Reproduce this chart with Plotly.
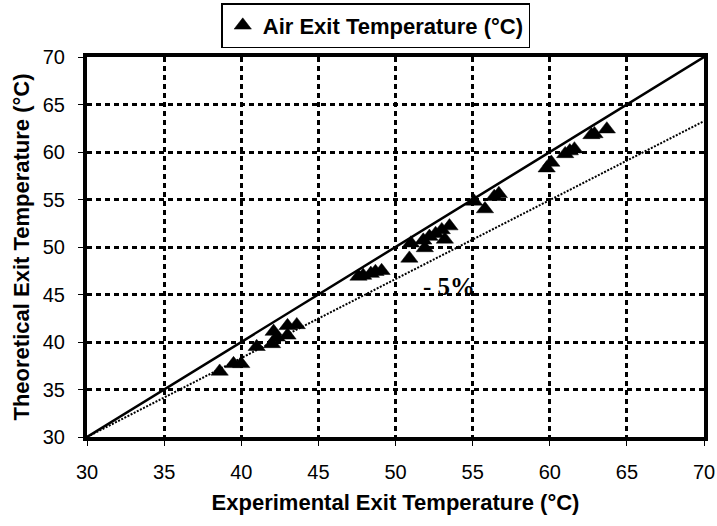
import plotly.graph_objects as go

# Experimental vs theoretical air exit temperature (°C)
exp_temp = [38.6, 39.5, 40.0, 41.0, 42.0, 42.1, 42.3, 43.0, 43.0, 43.6,
            47.6, 47.9, 48.4, 48.7, 49.1,
            50.9, 51.0, 51.8, 51.9, 52.2, 52.6, 53.0, 53.2, 53.5,
            55.1, 55.8, 56.4, 56.7,
            59.8, 60.1, 61.0, 61.3, 61.6, 62.7, 62.9, 63.7]
theo_temp = [36.9, 37.7, 37.7, 39.5, 39.8, 41.1, 40.5, 41.7, 40.7, 41.8,
             46.9, 47.0, 47.2, 47.4, 47.5,
             48.8, 50.4, 50.7, 49.9, 51.1, 51.4, 51.8, 50.8, 52.2,
             54.8, 54.0, 55.3, 55.6,
             58.3, 58.9, 59.8, 60.1, 60.3, 61.8, 61.9, 62.4]

ref_x = [30, 70]
ref_y = [30, 70]            # perfect agreement line
minus5_y = [30, 63.25]      # -5% line

x_ticks = [30, 35, 40, 45, 50, 55, 60, 65, 70]
y_ticks = [30, 35, 40, 45, 50, 55, 60, 65, 70]

SANS = "Liberation Sans, Arial, sans-serif"

fig = go.Figure()
fig.add_trace(go.Scatter(x=ref_x, y=ref_y, mode="lines",
                         line=dict(color="black", width=2.5),
                         showlegend=False, hoverinfo="skip"))
fig.add_trace(go.Scatter(x=ref_x, y=minus5_y, mode="lines",
                         line=dict(color="black", width=2, dash="2px,1.5px"),
                         showlegend=False, hoverinfo="skip"))
fig.add_trace(go.Scatter(x=exp_temp, y=theo_temp, mode="markers",
                         name="Air Exit Temperature (°C)",
                         marker=dict(symbol="triangle-up", size=15, color="black",
                                     line=dict(color="black", width=0.5))))

fig.add_annotation(x=53.45, y=45.8, text="<b>- 5%</b>", showarrow=False,
                   font=dict(family="Liberation Serif, Times New Roman, serif",
                             size=25, color="black"))

axis_common = dict(
    showline=True, linecolor="black", linewidth=4, mirror=True,
    showgrid=True, gridcolor="black", gridwidth=2.5, griddash="5px,4px",
    zeroline=False, ticks="outside", ticklen=5, tickwidth=1, tickcolor="black",
    tickfont=dict(family=SANS, size=20, color="black"),
)

fig.update_xaxes(range=[30, 70], tickvals=x_ticks, ticklabelstandoff=9,
                 title=dict(text="<b>Experimental Exit Temperature (°C)</b>",
                            font=dict(family=SANS, size=22, color="black"),
                            standoff=14),
                 **axis_common)
fig.update_yaxes(range=[30, 70], tickvals=y_ticks, ticklabelstandoff=9,
                 title=dict(text="<b>Theoretical Exit Temperature (°C)</b>",
                            font=dict(family=SANS, size=22, color="black"),
                            standoff=8),
                 **axis_common)

fig.update_layout(
    width=717, height=526,
    margin=dict(l=87, r=13, t=57, b=89, autoexpand=False),
    plot_bgcolor="white", paper_bgcolor="white",
    legend=dict(x=0.468, y=1.142, xanchor="center", yanchor="top",
                bordercolor="black", borderwidth=1.5, bgcolor="white",
                itemwidth=30,
                font=dict(family=SANS, size=22, color="black", weight="bold")),
)

fig.write_html("out.html")
